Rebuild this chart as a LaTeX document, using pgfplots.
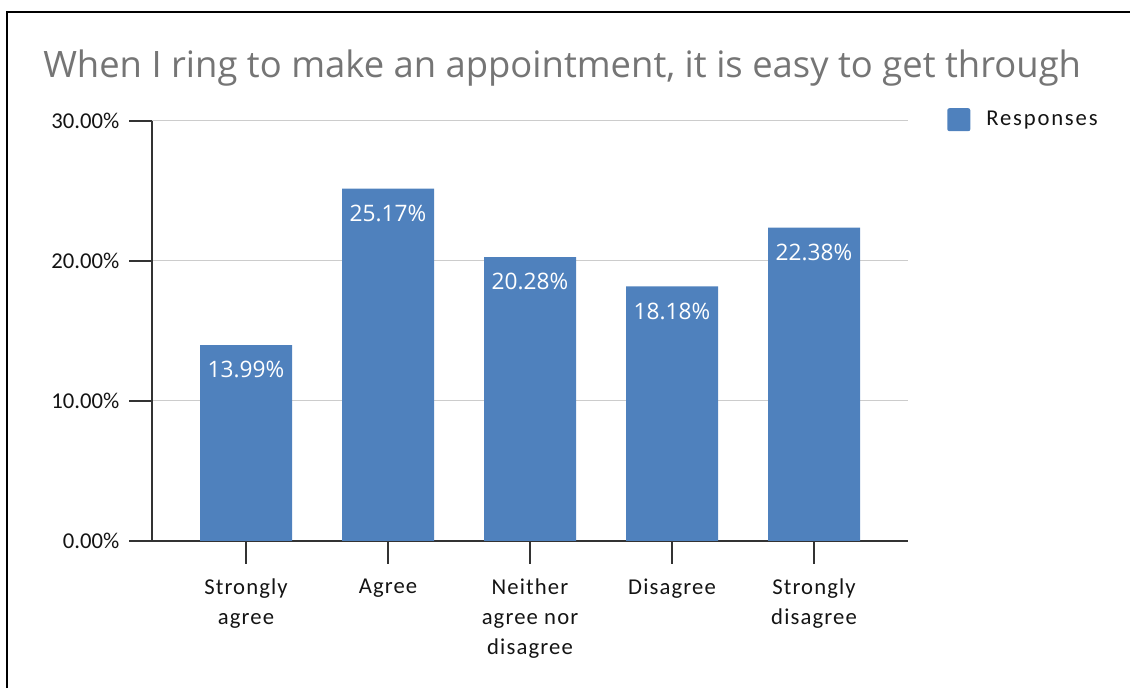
\documentclass[border=0pt]{standalone}
\usepackage{pgfplots}
\pgfplotsset{compat=1.18}
\usepackage{fontspec}
\setmainfont{Carlito}
\newfontfamily\titlefont{Open Sans}
\newfontfamily\tickfont[LetterSpace=5]{Carlito}
\newfontfamily\legfont[LetterSpace=8]{Carlito}
\newfontfamily\barfont{Open Sans}
\definecolor{barblue}{HTML}{4F81BD}
\definecolor{titlegray}{HTML}{757575}
\definecolor{gridgray}{HTML}{CCCCCC}
\definecolor{axisdark}{HTML}{333333}
\begin{document}
\begin{tikzpicture}[x=0.75pt,y=0.75pt]
\path[use as bounding box] (0,0) rectangle (1130,688);
% frame (cropped)
\draw[line width=1.5pt,black] (7,0) -- (7,676) -- (1130,676);
% title
\node[anchor=base west,inner sep=0pt,text=titlegray,font=\titlefont\fontsize{27.3}{32}\selectfont] at (43,610) {When I ring to make an appointment, it is easy to get through};
\begin{axis}[
  at={(114pt,110.25pt)}, anchor=south west,
  scale only axis, width=567pt, height=315pt,
  /pgf/number format/assume math mode=true,
  ybar, bar width=69pt,
  xmin=-0.662, xmax=4.662,
  ymin=0, ymax=30,
  xtick={0,1,2,3,4},
  xticklabels={Strongly\\agree, Agree, Neither\\agree nor\\disagree, Disagree, Strongly\\disagree},
  ytick={0,10,20,30},
  yticklabels={0.00\%,10.00\%,20.00\%,30.00\%},
  axis x line*=bottom, axis y line*=left,
  axis line style={axisdark,line width=1.1pt,-},
  tick align=outside,
  major tick length=17pt,
  tick style={axisdark,line width=1.1pt},
  ymajorgrids, grid style={gridgray,line width=0.75pt},
  xticklabel style={align=center,text=black!92,font=\tickfont\fontsize{17}{22.5}\selectfont,yshift=-8pt},
  yticklabel style={text=black!92,font=\fontsize{17}{20}\selectfont,xshift=-4pt},
  nodes near coords={\pgfmathprintnumber[fixed,fixed zerofill,precision=2]{\pgfplotspointmeta}\%},
  every node near coord/.append style={anchor=north,inner sep=0pt,yshift=-12pt,text=white,font=\barfont\fontsize{17}{20}\selectfont},
  legend style={at={(1.0516,1.031)},anchor=north west,draw=none,fill=none,inner sep=0pt,
    font=\legfont\fontsize{17}{20}\selectfont,text=black!92,
    /tikz/every odd column/.style={column sep=10pt}},
  legend image code/.code={\fill[barblue,rounded corners=1.5pt] (0pt,-8.6pt) rectangle (17.25pt,8.6pt);},
  legend cell align=left,
]
\addplot[fill=barblue,draw=none] coordinates {(0,13.99) (1,25.17) (2,20.28) (3,18.18) (4,22.38)};
\addlegendentry{Responses}
\end{axis}
\end{tikzpicture}
\end{document}
